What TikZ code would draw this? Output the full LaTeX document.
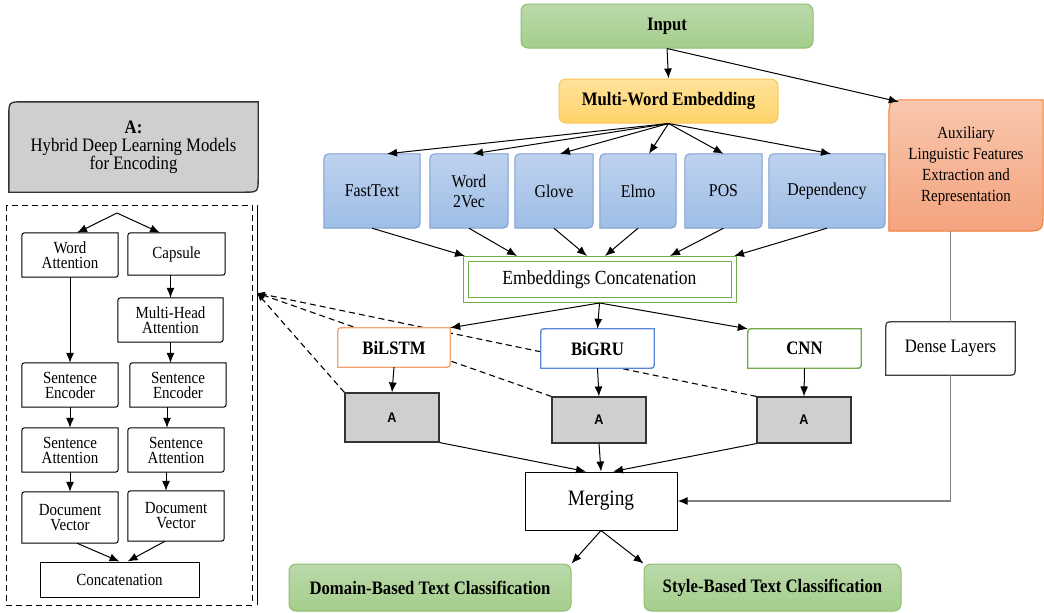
\documentclass[tikz,border=0pt]{standalone}
\usepackage{fontspec}
\setmainfont{Liberation Serif}[FakeStretch=0.88]
\newfontfamily\sansA{Liberation Sans}[FakeStretch=0.9]
\usetikzlibrary{arrows.meta}

\definecolor{grnA}{HTML}{BAD9AB}
\definecolor{grnB}{HTML}{A5CE8B}
\definecolor{grnLine}{HTML}{8DBF6E}
\definecolor{ylwA}{HTML}{FFE39A}
\definecolor{ylwB}{HTML}{FFD36B}
\definecolor{ylwLine}{HTML}{F7C55A}
\definecolor{bluA}{HTML}{BED2EE}
\definecolor{bluB}{HTML}{9EBEE6}
\definecolor{bluLine}{HTML}{7E9FD2}
\definecolor{salA}{HTML}{F8C7AD}
\definecolor{salB}{HTML}{F4A37E}
\definecolor{salLine}{HTML}{ED7D31}
\definecolor{grayA}{HTML}{D0CECE}
\definecolor{lstmC}{HTML}{F4A46C}
\definecolor{gruC}{HTML}{5B87D6}
\definecolor{cnnC}{HTML}{70AD47}
\definecolor{wireC}{HTML}{808080}

\pgfdeclarelayer{links}
\pgfdeclarelayer{shapes}
\pgfsetlayers{links,shapes,main}

% box outline with rounded top-left and bottom-right corners
\newcommand\cornerbox[3]{%
  \path[#3] ([yshift=-#2]#1.north west) .. controls (#1.north west) .. ([xshift=#2]#1.north west)
    -- (#1.north east) -- ([yshift=#2]#1.south east) .. controls (#1.south east) .. ([xshift=-#2]#1.south east)
    -- (#1.south west) -- cycle;}

\begin{document}
\begin{tikzpicture}[x=1pt,y=-1pt,
  every node/.style={inner sep=0pt,align=center},
  arr/.style={-{Latex[length=10pt,width=8pt]},line width=1pt},
  tB/.style={font=\fontsize{19}{22}\selectfont\bfseries},
  tE/.style={font=\fontsize{18}{20}\selectfont},
  lp/.style={font=\fontsize{17}{15}\selectfont,minimum width=96pt,minimum height=44pt},
  greenbox/.style={tB,draw=grnLine,line width=1pt,rounded corners=7pt,top color=grnA,bottom color=grnB},
  blueShp/.style={draw=bluLine,line width=1pt,top color=bluA,bottom color=bluB},
  lpShp/.style={draw=black,line width=1pt,fill=white},
  abox/.style={draw=black!80,line width=1.1pt,fill=grayA,minimum width=94pt,
    font={\sansA\fontsize{14}{16}\selectfont\bfseries}},
  dashlink/.style={dash pattern=on 6pt off 4pt,line width=1.1pt,-{Latex[length=8pt,width=6pt]}},
  wire/.style={draw=wireC,line width=1.6pt}]
\useasboundingbox (0,0) rectangle (1044,613);

% ---------- main pipeline ----------
\node[greenbox,minimum width=292pt,minimum height=44pt] (input) at (667,26) {Input};
\node[tB,draw=ylwLine,line width=1pt,rounded corners=7pt,top color=ylwA,bottom color=ylwB,
  minimum width=219pt,minimum height=44pt] (mwe) at (668.5,101) {Multi-Word Embedding};

\node[tE,minimum width=96pt,minimum height=74pt] (fast) at (372,191) {FastText};
\node[tE,minimum width=78pt,minimum height=74pt] (w2v) at (469,191) {Word\\2Vec};
\node[tE,minimum width=78pt,minimum height=74pt] (glove) at (554,191) {Glove};
\node[tE,minimum width=76pt,minimum height=74pt] (elmo) at (638,191) {Elmo};
\node[tE,minimum width=77pt,minimum height=74pt] (pos) at (723.5,191) {POS};
\node[tE,minimum width=116pt,minimum height=74pt] (dep) at (827,191) {Dependency};

\node[font=\fontsize{17}{21}\selectfont,minimum width=154pt,minimum height=131pt] (aux)
  at (966,165.5) {Auxiliary\\Linguistic Features\\Extraction and\\Representation};

\node[font=\fontsize{20}{22}\selectfont,draw=cnnC,line width=1pt,double=white,double distance=4pt,
  fill=white,minimum width=268pt,minimum height=41pt] (ec) at (599.5,279.5) {Embeddings Concatenation};

\node[tB,minimum width=112pt,minimum height=39pt] (bilstm) at (394,347.5) {BiLSTM};
\node[tB,minimum width=113pt,minimum height=39pt] (bigru) at (597.5,348.5) {BiGRU};
\node[tB,minimum width=113pt,minimum height=39pt] (cnn) at (804.5,348.5) {CNN};
\node[font=\fontsize{19}{21}\selectfont,minimum width=129pt,minimum height=53pt] (dense) at (950.5,348.5) {Dense Layers};

\node[abox,minimum height=49pt] (aL) at (392,417.5) {A};
\node[abox,minimum height=46pt] (aM) at (599,420) {A};
\node[abox,minimum height=46pt] (aR) at (804,420) {A};

\node[font=\fontsize{22}{24}\selectfont,draw,line width=1pt,fill=white,
  minimum width=152pt,minimum height=58pt] (merge) at (601,501) {Merging};

\node[greenbox,minimum width=282pt,minimum height=47pt] (domain) at (430,587.5) {Domain-Based Text Classification};
\node[greenbox,minimum width=257pt,minimum height=47pt] (style) at (772.5,587.5) {Style-Based Text Classification};

% ---------- left panel: hybrid encoder ----------
\node[font=\fontsize{19}{18}\selectfont,minimum width=249pt,minimum height=90pt] (hyb)
  at (133.5,147) {\textbf{A:}\\Hybrid Deep Learning Models\\for Encoding};

\draw[dash pattern=on 6pt off 4pt,line width=1pt] (6,205) rectangle (252,605);
\draw[line width=1pt] (257,205) -- (257,605);
\coordinate (tip) at (257,293);
\coordinate (fork) at (117,213);

\node[lp] (watt) at (70,255) {Word\\Attention};
\node[lp,minimum width=97pt,minimum height=42pt] (caps) at (176.5,254) {Capsule};
\node[lp,minimum width=105pt] (mha) at (170.5,320) {Multi-Head\\Attention};
\node[lp] (seL) at (70,385) {Sentence\\Encoder};
\node[lp] (seR) at (178,385) {Sentence\\Encoder};
\node[lp] (saL) at (70,450) {Sentence\\Attention};
\node[lp] (saR) at (176,450) {Sentence\\Attention};
\node[lp,minimum height=51pt] (dvL) at (70,517.5) {Document\\Vector};
\node[lp,minimum height=50pt] (dvR) at (176,516) {Document\\Vector};
\node[font=\fontsize{17}{19}\selectfont,draw,line width=1pt,minimum width=159pt,minimum height=35pt]
  (conc) at (119.5,579.5) {Concatenation};

% ---------- outlines ----------
\begin{pgfonlayer}{shapes}
  \cornerbox{fast}{11pt}{blueShp}
  \cornerbox{w2v}{11pt}{blueShp}
  \cornerbox{glove}{11pt}{blueShp}
  \cornerbox{elmo}{11pt}{blueShp}
  \cornerbox{pos}{11pt}{blueShp}
  \cornerbox{dep}{11pt}{blueShp}
  \cornerbox{aux}{21pt}{draw=salLine,line width=1pt,top color=salA,bottom color=salB}
  \cornerbox{bilstm}{6pt}{draw=lstmC,line width=1.3pt,fill=white}
  \cornerbox{bigru}{6pt}{draw=gruC,line width=1.3pt,fill=white}
  \cornerbox{cnn}{6pt}{draw=cnnC,line width=1.3pt,fill=white}
  \cornerbox{dense}{8pt}{draw=black!75,line width=1.3pt,fill=white}
  \cornerbox{hyb}{15pt}{draw=black!80,line width=1.4pt,fill=grayA}
  \cornerbox{watt}{6pt}{lpShp}
  \cornerbox{caps}{6pt}{lpShp}
  \cornerbox{mha}{6pt}{lpShp}
  \cornerbox{seL}{6pt}{lpShp}
  \cornerbox{seR}{6pt}{lpShp}
  \cornerbox{saL}{6pt}{lpShp}
  \cornerbox{saR}{6pt}{lpShp}
  \cornerbox{dvL}{6pt}{lpShp}
  \cornerbox{dvR}{6pt}{lpShp}
\end{pgfonlayer}

% ---------- connectors ----------
\draw[arr] (input.south) -- (mwe.north);
\draw[arr] (input.south) -- ([xshift=10pt,yshift=-2pt]aux.north west);

\draw[arr] (mwe.south) -- ([xshift=15pt]fast.north);
\draw[arr] (mwe.south) -- ([xshift=4pt]w2v.north);
\draw[arr] (mwe.south) -- ([xshift=6pt]glove.north);
\draw[arr] (mwe.south) -- ([xshift=11pt]elmo.north);
\draw[arr] (mwe.south) -- (pos.north);
\draw[arr] (mwe.south) -- ([xshift=4pt]dep.north);

\draw[arr] (fast.south) -- ([yshift=2.5pt]ec.north west);
\draw[arr] (w2v.south) -- ([xshift=52pt,yshift=2.5pt]ec.north west);
\draw[arr] (glove.south) -- ([xshift=122pt,yshift=2.5pt]ec.north west);
\draw[arr] (elmo.south) -- ([xshift=140pt,yshift=2.5pt]ec.north west);
\draw[arr] (pos.south) -- ([xshift=205pt,yshift=2.5pt]ec.north west);
\draw[arr] (dep.south) -- ([yshift=2.5pt]ec.north east);

\draw[arr] ([yshift=-2.5pt]ec.south) -- (bilstm.north east);
\draw[arr] ([yshift=-2.5pt]ec.south) -- (bigru.north);
\draw[arr] ([yshift=-2.5pt]ec.south) -- (cnn.north west);

\draw[arr] (bilstm.south) -- (aL.north);
\draw[arr] (bigru.south) -- (aM.north);
\draw[arr] (cnn.south) -- (aR.north);

\draw[arr] (aL.south east) -- ([xshift=-15pt]merge.north);
\draw[arr] (aM.south) -- (merge.north);
\draw[arr] (aR.south west) -- ([xshift=12pt]merge.north);

\draw[wire] (dense.north |- aux.south) -- (dense.north);
\draw[wire,-{Latex[length=10pt,width=8pt,color=black]}] (dense.south) |- (merge.east);

\draw[arr] (merge.south) -- (domain.north east);
\draw[arr] (merge.south) -- (style.north west);

\begin{pgfonlayer}{links}
  \draw[dashlink] (aL.north west) -- (tip);
  \draw[dashlink] (aM.north west) -- (tip);
  \draw[dashlink] (aR.north west) -- (tip);
\end{pgfonlayer}

% left panel connectors
\draw[arr] (fork) -- ([xshift=7pt]watt.north);
\draw[arr] (fork) -- ([xshift=-16.5pt]caps.north);
\draw[arr] (watt.south) -- (seL.north);
\draw[arr] (mha.north |- caps.south) -- (mha.north);
\draw[arr] (mha.south) -- (mha.south |- seR.north);
\draw[arr] (seL.south) -- (saL.north);
\draw[arr] ([xshift=-11pt]seR.south) -- ([xshift=-11pt]seR.south |- saR.north);
\draw[arr] (saL.south) -- (dvL.north);
\draw[arr] ([xshift=-10pt]saR.south) -- ([xshift=-10pt]saR.south |- dvR.north);
\draw[arr] ([xshift=7pt]dvL.south) -- (conc.north);
\draw[arr] ([xshift=-11pt]dvR.south) -- ([xshift=8pt]conc.north);
\end{tikzpicture}
\end{document}
